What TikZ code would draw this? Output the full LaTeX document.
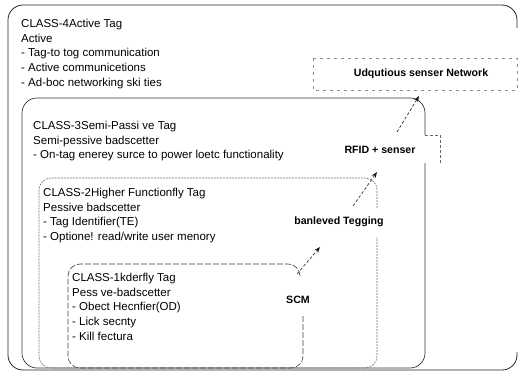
\documentclass[tikz,border=0pt]{standalone}
\usepackage{fontspec}
\setmainfont{Liberation Sans}
\usetikzlibrary{arrows.meta}

\begin{document}
\begin{tikzpicture}[x=1bp, y=-1bp,
    body/.style={anchor=north west, inner sep=0pt, align=left, text=black,
                 font=\fontsize{11.5bp}{14.7bp}\selectfont},
    tag/.style={inner sep=1pt, text=black, font=\fontsize{10.6bp}{12bp}\selectfont\bfseries},
    flow/.style={densely dashed, line width=0.6pt, black!90, -{Stealth[length=6bp, width=4.5bp]}},
    netline/.style={draw=black!45, dash pattern=on 3bp off 4bp, line width=0.5pt}]
    \useasboundingbox (0,0) rectangle (520,375);

    % Class 4 - outer frame, right side left open
    \draw[black!85, line width=0.8pt, rounded corners=15] (517,28) |- (8,5) -- (8,370) -| (517,352);
    \node[body] (c4text) at (21,19) {CLASS-4Active Tag\\Active\\- Tag-to tog communication\\- Active communicetions\\- Ad-boc networking ski ties};

    % Class 3
    \draw[black!80, line width=0.7pt, rounded corners=15] (425,135) |- (22,98) -- (22,368) -| (425,163);
    \draw[black!60, densely dashed, line width=0.6pt] (425,135) -- (440,135) -- (440,163);
    \node[body] (c3text) at (33,121) {CLASS-3Semi-Passi ve Tag\\Semi-pessive badscetter\\- On-tag enerey surce to power loetc functionality};

    % Class 2
    \draw[black!55, dash pattern=on 2bp off 1bp, line width=0.6pt, rounded corners=12] (377,208) |- (39,178) -- (39,368) -| (377,237);
    \node[body] (c2text) at (43,188) {CLASS-2Higher Functionfly Tag\\Pessive badscetter\\- Tag Identifier(TE)\\- Optione! read/write user menory};

    % Class 1 (innermost)
    \draw[black!75, dash pattern=on 6bp off 2bp, line width=0.6pt, rounded corners=12] (300,276) |- (68,264) -- (68,368) -| (303,315);
    \node[body] (c1text) at (72,273) {CLASS-1kderfly Tag\\Pess ve-badscetter\\- Obect Hecnfier(OD)\\- Lick secnty\\- Kill fectura};

    % Network box
    \draw[netline] (313,58) rectangle (517,90);
    \node[tag] (usn) at (421,74) {Udqutious senser Network};

    % Step labels
    \node[tag] (scm) at (298,300) {SCM};
    \node[tag] (bantag) at (339,222) {banleved Tegging};
    \node[tag] (rfid) at (380,150) {RFID + senser};

    % Arrows out of each corner
    \coordinate (c1exit) at (297,274);
    \coordinate (c1tip) at (320,247);
    \coordinate (c2exit) at (353,206);
    \coordinate (c2tip) at (377,172);
    \coordinate (c3exit) at (397,132);
    \coordinate (c3tip) at (419,96);
    \draw[flow] (c1exit) -- (c1tip);
    \draw[flow] (c2exit) -- (c2tip);
    \draw[flow] (c3exit) -- (c3tip);
\end{tikzpicture}
\end{document}
